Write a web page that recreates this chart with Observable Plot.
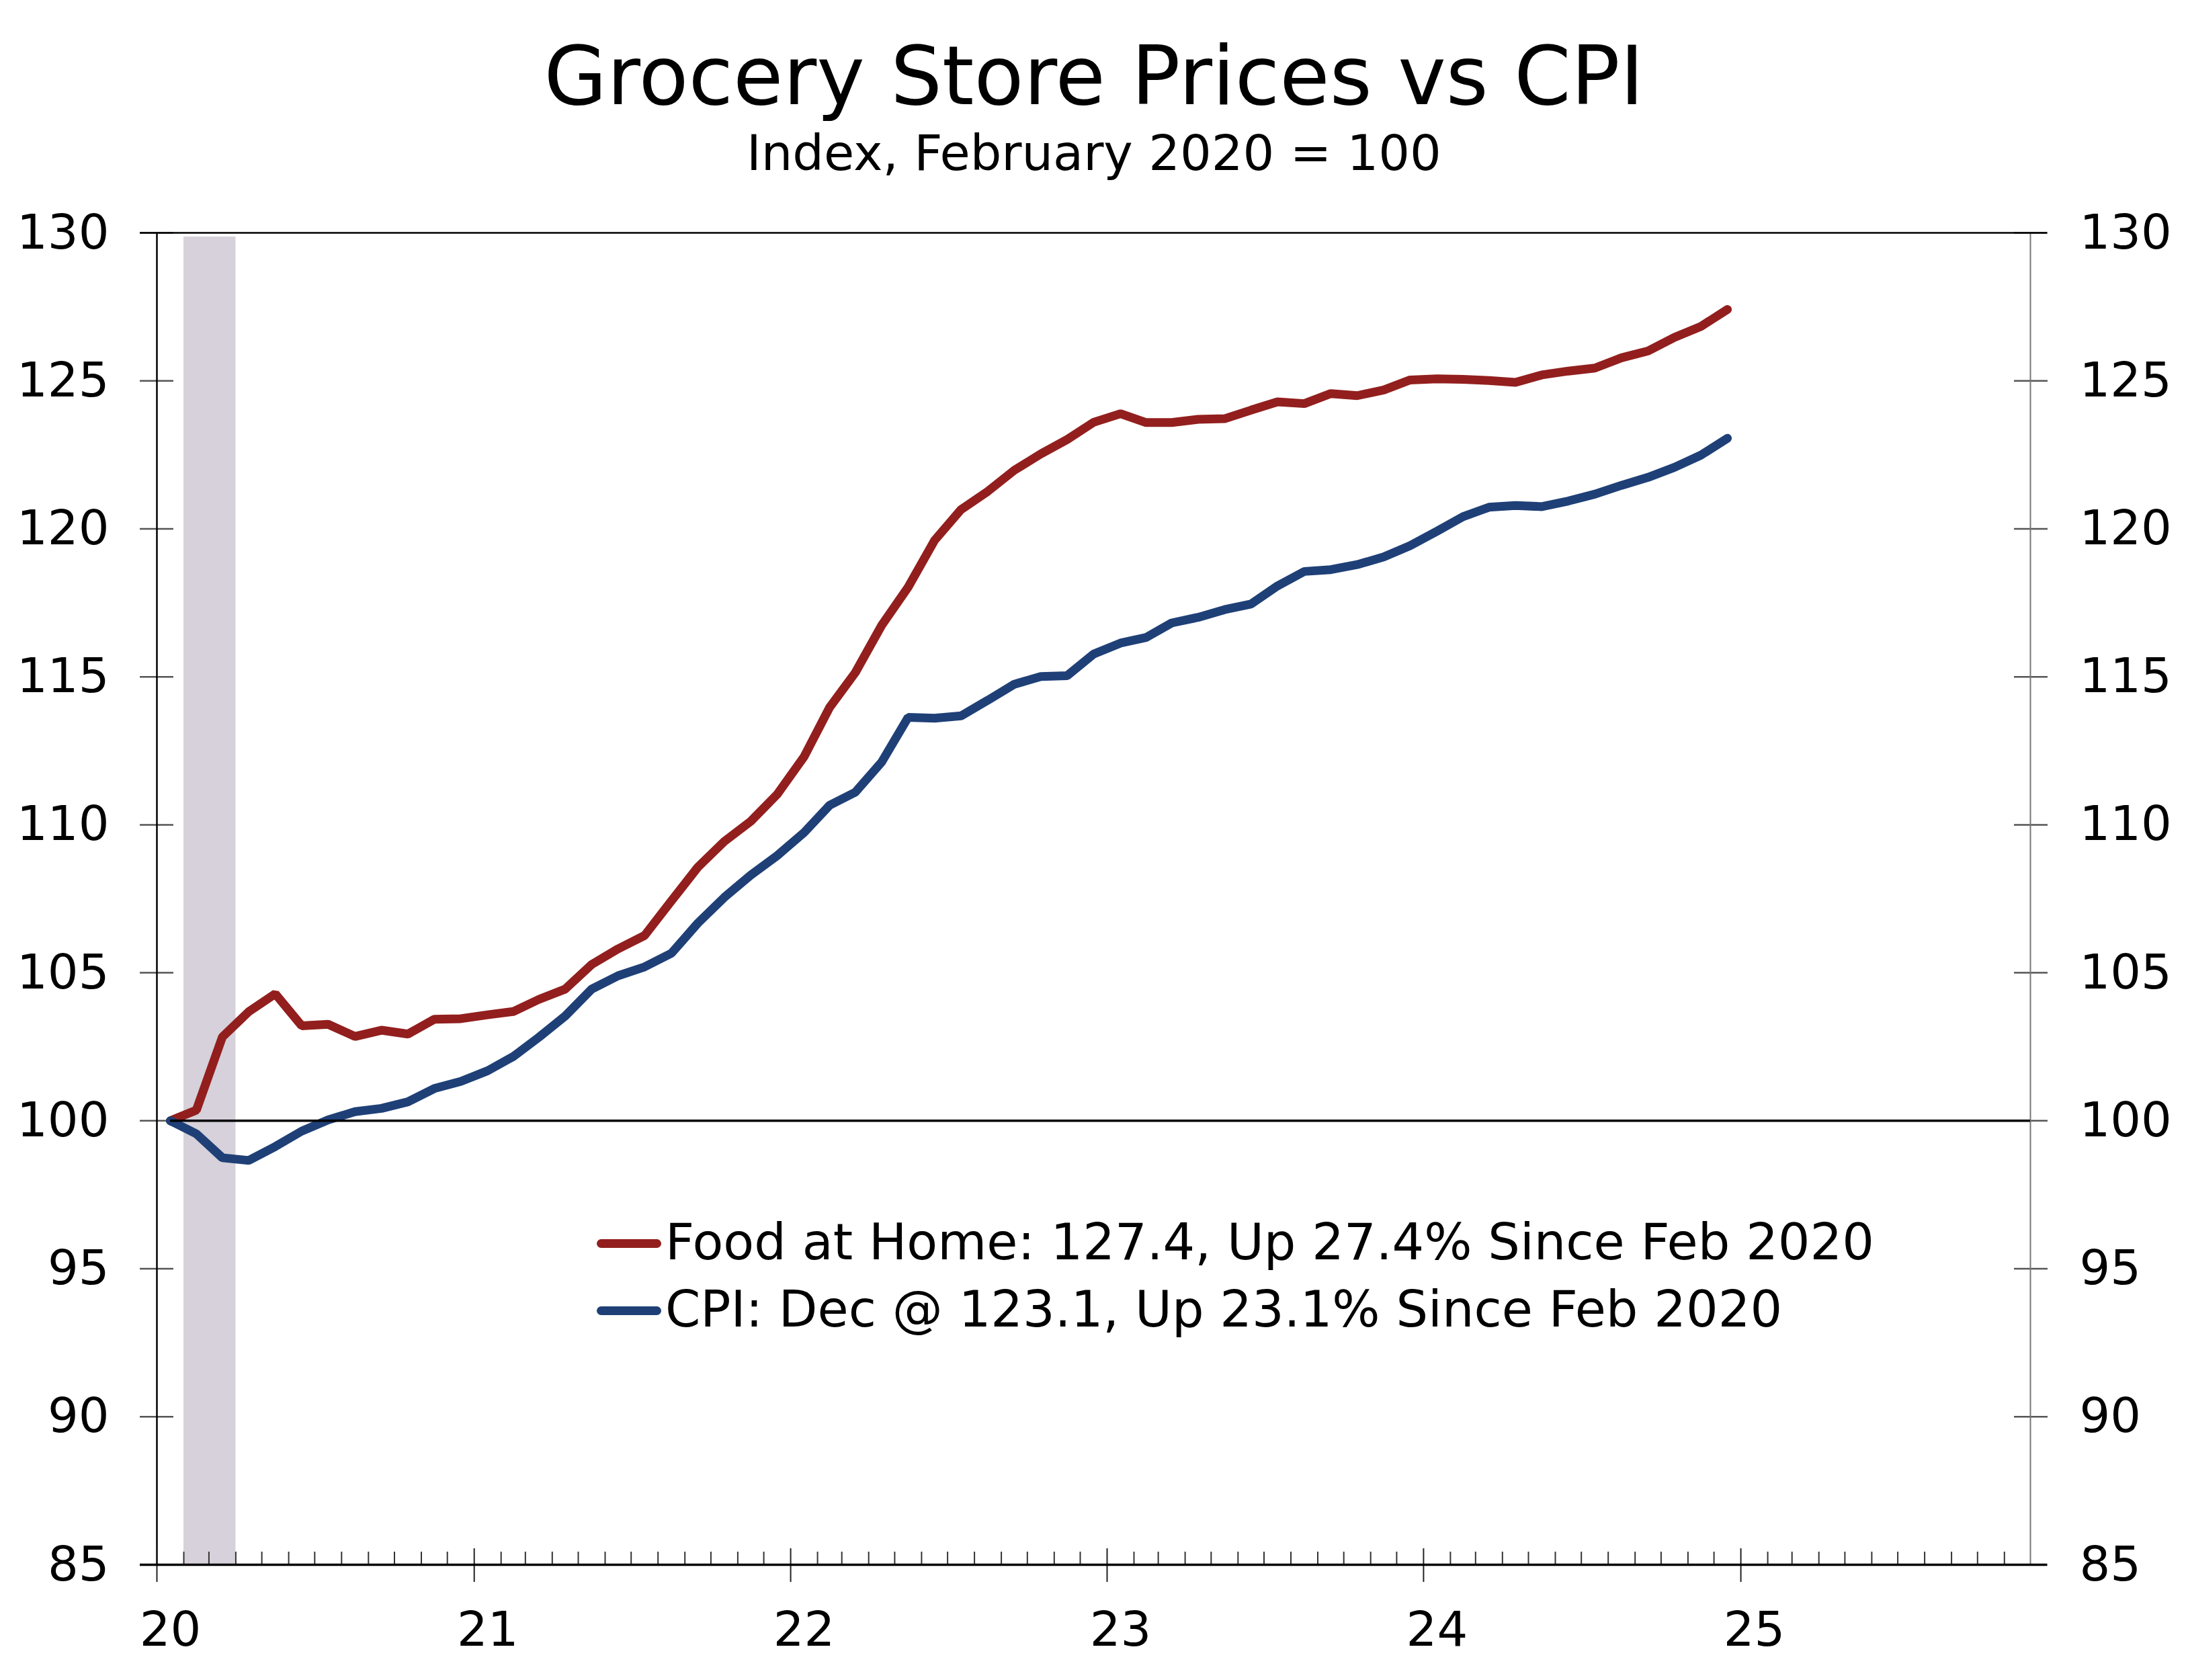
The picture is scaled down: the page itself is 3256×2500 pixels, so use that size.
<!DOCTYPE html>
<html>
<head>
<meta charset="utf-8">
<script src="https://cdn.jsdelivr.net/npm/d3@7"></script>
<script src="https://cdn.jsdelivr.net/npm/@observablehq/plot@0.6"></script>
<style>
  body { margin: 0; background: #fff; }
  #wrap { position: relative; width: 3256px; height: 2500px; font-family: "DejaVu Sans", sans-serif; color: #000; overflow: hidden; }
  .t { position: absolute; left: 0; width: 3256px; text-align: center; white-space: nowrap; }
  #title { top: 53px; font-size: 121px; line-height: 121px; }
  #subtitle { top: 191px; font-size: 73.5px; line-height: 73.5px; }
  #chart { position: absolute; left: 0; top: 280px; }
  .leg { position: absolute; left: 990px; font-size: 75px; line-height: 75px; white-space: nowrap; }
  .sw { position: absolute; left: 888px; width: 96px; height: 13px; border-radius: 6.5px; }
</style>
</head>
<body>
<div id="wrap">
  <div class="t" id="title">Grocery Store Prices vs CPI</div>
  <div class="t" id="subtitle">Index, February 2020 = 100</div>
  <div id="chart"></div>
  <div class="sw" style="top:1843.5px;background:#921f1e"></div>
  <div class="leg" style="top:1811px">Food at Home: 127.4, Up 27.4% Since Feb 2020</div>
  <div class="sw" style="top:1943.5px;background:#1f4077"></div>
  <div class="leg" style="top:1911px">CPI: Dec @ 123.1, Up 23.1% Since Feb 2020</div>
</div>
<script>
// ---- data (monthly, Jan 2020 – Dec 2024) ----
const firstMonth = "2020-01";
const lastMonth = "2024-12";
const foodAtHome = [
  100.0, 100.36, 102.83, 103.69, 104.29, 103.21, 103.26, 102.85, 103.06, 102.93, 103.43, 103.45,
  103.58, 103.69, 104.1, 104.45, 105.28, 105.81, 106.26, 107.43, 108.57, 109.44, 110.12, 111.03,
  112.3, 113.97, 115.14, 116.74, 118.03, 119.61, 120.65, 121.27, 121.98, 122.53, 123.02, 123.6,
  123.89, 123.59, 123.59, 123.7, 123.72, 124.01, 124.29, 124.23, 124.57, 124.5, 124.69, 125.03,
  125.07, 125.05, 125.01, 124.95, 125.2, 125.33, 125.43, 125.78, 126.01, 126.47, 126.84, 127.41
];
const cpi = [
  100.0, 99.56, 98.75, 98.66, 99.13, 99.65, 100.03, 100.31, 100.42, 100.64, 101.09, 101.33,
  101.69, 102.17, 102.82, 103.54, 104.45, 104.9, 105.2, 105.66, 106.68, 107.55, 108.3, 108.96,
  109.74, 110.66, 111.1, 112.12, 113.63, 113.6, 113.68, 114.21, 114.75, 115.01, 115.04, 115.77,
  116.14, 116.33, 116.82, 117.01, 117.27, 117.46, 118.07, 118.56, 118.62, 118.79, 119.05, 119.43,
  119.92, 120.41, 120.73, 120.79, 120.75, 120.94, 121.17, 121.47, 121.74, 122.08, 122.49, 123.06
];
const yTicks = [85, 90, 95, 100, 105, 110, 115, 120, 125, 130];
const recession = [{start: "2020-02-01", end: "2020-04-01"}];
const xDomain = ["2020-01-01", "2025-12-01"];
const yDomain = [85, 130];

// ---- build ----
const parse = d3.utcParse("%Y-%m");
const parseDay = d3.utcParse("%Y-%m-%d");
const months = d3.utcMonth.range(parse(firstMonth), d3.utcMonth.offset(parse(lastMonth), 1));
const mid = m => new Date((+m + +d3.utcMonth.offset(m, 1)) / 2);
const rows = months.map((m, i) => ({date: mid(m), food: foodAtHome[i], cpi: cpi[i]}));
const x0 = parseDay(xDomain[0]), x1 = parseDay(xDomain[1]);
const yearTicks = d3.utcYear.range(x0, x1);
const yearLabels = yearTicks.map(d => mid(d));
const monthTicks = d3.utcMonth.range(x0, x1).filter(d => d.getUTCMonth() !== 0);
const rec = recession.map(r => ({start: parseDay(r.start), end: parseDay(r.end)}));

const chart = Plot.plot({
  width: 3256,
  height: 2220,
  marginTop: 66,
  marginBottom: 172,
  marginLeft: 233,
  marginRight: 235,
  style: {fontFamily: "DejaVu Sans", fontSize: "72px", background: "#fff", color: "#000", overflow: "visible"},
  x: {type: "utc", domain: [x0, x1], axis: null, label: null},
  y: {domain: yDomain, axis: null, label: null},
  marks: [
    Plot.rect(rec, {x1: "start", x2: "end", y1: yDomain[0], y2: yDomain[1], fill: "#d6d1da", insetTop: 6}),
    Plot.axisY(yTicks, {anchor: "left", tickSize: 50, dx: 25, fill: "none", stroke: "#555", strokeWidth: 2.5, label: null}),
    Plot.axisY(yTicks, {anchor: "right", tickSize: 50, dx: -25, fill: "none", stroke: "#555", strokeWidth: 2.5, label: null}),
    Plot.axisY(yTicks, {anchor: "left", tickSize: 0, tickPadding: 71, label: null}),
    Plot.axisY(yTicks, {anchor: "right", tickSize: 0, tickPadding: 73, label: null}),
    Plot.ruleX([x0], {stroke: "#000", strokeWidth: 2.5}),
    Plot.ruleX([x1], {stroke: "#777", strokeWidth: 2}),
    Plot.ruleY([yDomain[1]], {stroke: "#000", strokeWidth: 2.5, insetLeft: -25, insetRight: -25}),
    Plot.axisX(monthTicks, {anchor: "bottom", tickSize: 19, dy: -19, fill: "none", stroke: "#333", strokeWidth: 2, label: null}),
    Plot.axisX(yearTicks, {anchor: "bottom", tickSize: 50, dy: -24, fill: "none", stroke: "#222", strokeWidth: 2, label: null}),
    Plot.axisX(yearLabels, {anchor: "bottom", tickSize: 0, tickPadding: 69, tickFormat: d3.utcFormat("%y"), label: null}),
    Plot.ruleY([yDomain[0]], {stroke: "#000", strokeWidth: 3.5, insetLeft: -25, insetRight: -25}),
    Plot.line(rows, {x: "date", y: "food", stroke: "#921f1e", strokeWidth: 13, strokeLinejoin: "miter", strokeLinecap: "round"}),
    Plot.line(rows, {x: "date", y: "cpi", stroke: "#1f4077", strokeWidth: 13, strokeLinejoin: "miter", strokeLinecap: "round"}),
    Plot.ruleY([100], {x1: rows[0].date, x2: x1, stroke: "#000", strokeWidth: 3.5})
  ]
});
document.getElementById("chart").appendChild(chart);
</script>
</body>
</html>
